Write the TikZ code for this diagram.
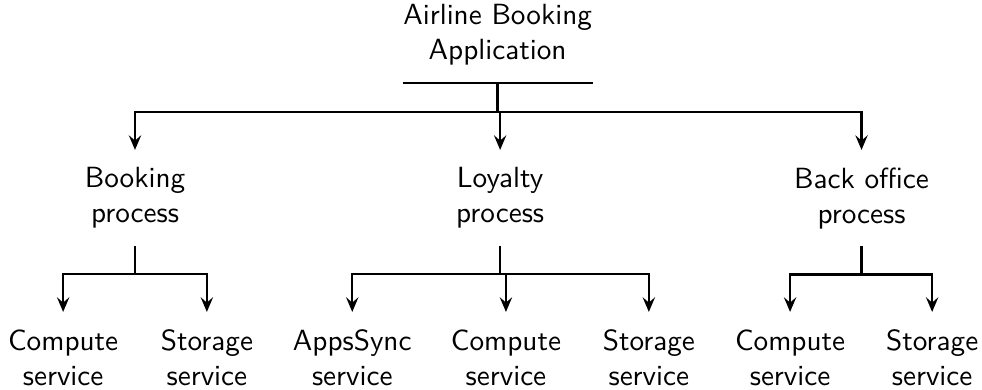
\documentclass[tikz,border=0pt]{standalone}
\usepackage{tikz}
\usetikzlibrary{positioning}
\usetikzlibrary{arrows.meta}
\tikzset{%
  lbl/.style = {align=center,font=\sffamily,inner xsep=0pt,
        inner ysep=5.8pt},
  link/.style = {line width=0.8pt},
  forkarrow/.style = {-{Stealth[length=5pt,width=4.2pt,inset=1.8pt]},
        line width=0.8pt}
}
\begin{document}
\begin{tikzpicture}
    \useasboundingbox (0,0) rectangle (11.82,-4.69);

    \node[lbl, anchor=south] (app) at (5.99,-1.0) {Airline Booking\\Application};

    \node[lbl, anchor=north] (book) at (1.625,-1.805) {Booking\\process};
    \node[lbl, anchor=north] (loyal) at (6.02,-1.805) {Loyalty\\process};
    \node[lbl, anchor=north] (back) at (10.37,-1.805) {Back office\\process};

    \node[lbl, anchor=north] (bcomp) at (0.76,-3.755) {Compute\\service};
    \node[lbl, anchor=north] (bstor) at (2.49,-3.755) {Storage\\service};
    \node[lbl, anchor=north] (lapps) at (4.24,-3.755) {AppsSync\\service};
    \node[lbl, anchor=north] (lcomp) at (6.09,-3.755) {Compute\\service};
    \node[lbl, anchor=north] (lstor) at (7.81,-3.755) {Storage\\service};
    \node[lbl, anchor=north] (kcomp) at (9.51,-3.755) {Compute\\service};
    \node[lbl, anchor=north] (kstor) at (11.22,-3.755) {Storage\\service};

    % line under the root
    \draw[link] (app.south west) -- (app.south east);

    % root to processes
    \foreach \child in {book,loyal,back}
        \draw[forkarrow] (app.south) -- ++(0,-0.35) -| (\child.north);

    % processes to services
    \foreach \child in {bcomp,bstor}
        \draw[forkarrow] (book.south) -- ++(0,-0.34) -| (\child.north);
    \foreach \child in {lapps,lcomp,lstor}
        \draw[forkarrow] (loyal.south) -- ++(0,-0.34) -| (\child.north);
    \foreach \child in {kcomp,kstor}
        \draw[forkarrow] (back.south) -- ++(0,-0.34) -| (\child.north);
\end{tikzpicture}
\end{document}
